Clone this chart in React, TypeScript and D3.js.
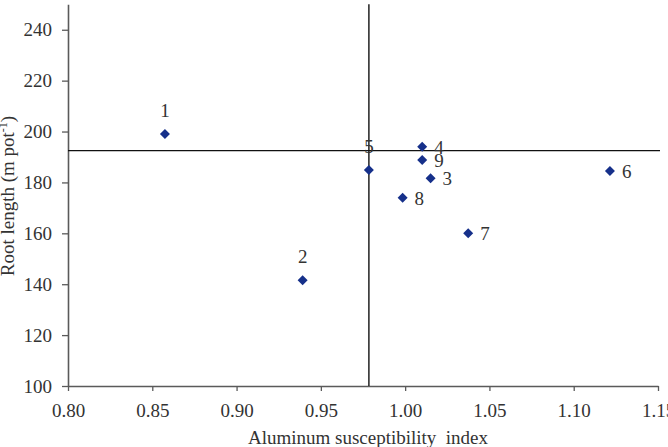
import React, { useEffect, useRef } from 'react';
import * as d3 from 'd3';

// genotype numbers shown next to each point
const genotypes = ['1', '2', '3', '4', '5', '6', '7', '8', '9'];
const susceptibilityIndex = [0.8575, 0.9392, 1.0151, 1.0101, 0.9785, 1.1215, 1.0374, 0.9985, 1.0101];
const rootLength = [199.0, 141.6, 181.6, 194.0, 184.9, 184.5, 160.0, 174.0, 188.8];
const labelSide = ['top', 'top', 'right', 'right', 'top', 'right', 'right', 'right', 'right'];

// reference lines (means)
const meanIndex = 0.9785;
const meanRootLength = 192.5;

const xTicks = [0.8, 0.85, 0.9, 0.95, 1.0, 1.05, 1.1, 1.15];
const yTicks = [100, 120, 140, 160, 180, 200, 220, 240];

const App = () => {
  const svgRef = useRef<SVGSVGElement | null>(null);

  useEffect(() => {
    const svg = d3.select(svgRef.current);
    svg.selectAll('*').remove();

    const font = '"Liberation Serif", "Times New Roman", serif';
    const x = d3.scaleLinear().domain([0.8, 1.15]).range([68, 658]);
    const y = d3.scaleLinear().domain([100, 250]).range([386, 4.3]);

    // Axes
    const xAxis = svg.append('g')
      .attr('transform', `translate(0,${y(100)})`)
      .call(d3.axisBottom(x)
        .tickValues(xTicks)
        .tickSize(5)
        .tickSizeOuter(0)
        .tickPadding(13)
        .tickFormat(d3.format('.2f')));

    const yAxis = svg.append('g')
      .attr('transform', `translate(${x(0.8)},0)`)
      .call(d3.axisLeft(y)
        .tickValues(yTicks)
        .tickSize(6)
        .tickSizeOuter(0)
        .tickPadding(10)
        .tickFormat(d3.format('d')));

    [xAxis, yAxis].forEach(a => {
      a.select('.domain').attr('stroke', '#5a5a5a').attr('stroke-width', 1.6);
      a.selectAll('.tick line').attr('stroke', '#5a5a5a').attr('stroke-width', 1.3);
      a.selectAll('.tick text')
        .attr('fill', '#333')
        .style('font-family', font)
        .style('font-size', '19px');
    });

    // Mean reference lines
    svg.append('line')
      .attr('x1', x(0.8)).attr('x2', 660)
      .attr('y1', y(meanRootLength)).attr('y2', y(meanRootLength))
      .attr('stroke', '#111').attr('stroke-width', 1.4);

    svg.append('line')
      .attr('x1', x(meanIndex)).attr('x2', x(meanIndex))
      .attr('y1', y(250)).attr('y2', y(100))
      .attr('stroke', '#111').attr('stroke-width', 1.4);

    // Points
    const points = genotypes.map((g, i) => ({
      g,
      xv: susceptibilityIndex[i],
      yv: rootLength[i],
      side: labelSide[i]
    }));

    const diamond = d3.symbol().type(d3.symbolSquare).size(50);

    svg.selectAll('.pt')
      .data(points)
      .enter()
      .append('path')
      .attr('class', 'pt')
      .attr('d', diamond)
      .attr('transform', d => `translate(${x(d.xv)},${y(d.yv)}) rotate(45)`)
      .attr('fill', '#16308a');

    svg.selectAll('.lbl')
      .data(points)
      .enter()
      .append('text')
      .attr('class', 'lbl')
      .attr('x', d => d.side === 'top' ? x(d.xv) : x(d.xv) + 12)
      .attr('y', d => d.side === 'top' ? y(d.yv) - 17 : y(d.yv) + 7)
      .attr('text-anchor', d => d.side === 'top' ? 'middle' : 'start')
      .attr('fill', '#333')
      .style('font-family', font)
      .style('font-size', '19px')
      .text(d => d.g);

    // Axis titles
    svg.append('text')
      .attr('x', 368)
      .attr('y', 444)
      .attr('text-anchor', 'middle')
      .attr('fill', '#333')
      .style('font-family', font)
      .style('font-size', '19px')
      .style('white-space', 'pre')
      .text('Aluminum susceptibility  index');

    const yTitle = svg.append('text')
      .attr('transform', 'translate(14,196) rotate(-90)')
      .attr('text-anchor', 'middle')
      .attr('fill', '#333')
      .style('font-family', font)
      .style('font-size', '19px');
    yTitle.append('tspan').text('Root length (m pot');
    yTitle.append('tspan')
      .attr('dy', -7)
      .style('font-size', '12px')
      .text('-1');
    yTitle.append('tspan').attr('dy', 7).text(')');
  }, []);

  return (
    <div style={{ position: 'absolute', left: 0, top: 0, width: 668, height: 447, overflow: 'hidden', background: '#fff' }}>
      <svg ref={svgRef} width={668} height={447} style={{ display: 'block' }} />
    </div>
  );
};

export default App;
